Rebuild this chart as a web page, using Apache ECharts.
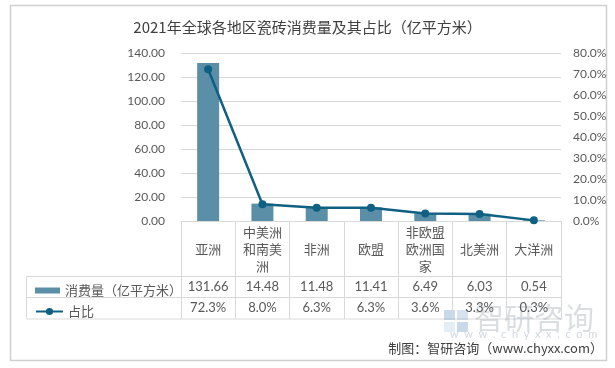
<!DOCTYPE html>
<html>
<head>
<meta charset="utf-8">
<script src="https://cdn.jsdelivr.net/npm/echarts@6/dist/echarts.min.js"></script>
<style>
  html, body { margin: 0; padding: 0; background: #fff; }
  #chart { width: 615px; height: 368px; }
</style>
</head>
<body>
<div id="chart"></div>
<script>
const categories = ['亚洲', '中美洲和南美洲', '非洲', '欧盟', '非欧盟欧洲国家', '北美洲', '大洋洲']
const consumption = [131.66, 14.48, 11.48, 11.41, 6.49, 6.03, 0.54]
const share = [72.3, 8.0, 6.3, 6.3, 3.6, 3.3, 0.3]

const CJK = "'Noto Sans CJK SC', sans-serif"
const NUM = "Lato, 'Noto Sans CJK SC', sans-serif"
const GRID_COLOR = '#d9d9d9'
const TEXT_COLOR = '#595959'

// grid + table geometry
const gridLeft = 181
const gridRight = 561
const axisY = 221
const rowLines = [276.5, 297.5, 319]
const tableLeft = 26.5

// wrap long category names every 3 chars, like the excel table
const wrap = (s) => s.match(/.{1,3}/g).join('\n')

const chart = echarts.init(document.getElementById('chart'))

const lineEl = (x1, y1, x2, y2) => ({
  type: 'line',
  shape: { x1, y1, x2, y2 },
  style: { stroke: GRID_COLOR, lineWidth: 1 },
  silent: true
})

chart.setOption({
  animation: false,
  color: ['#5b8fa8', '#0f6082'],
  title: {
    text: '2021年全球各地区瓷砖消费量及其占比（亿平方米）',
    left: 'center',
    top: 15,
    textStyle: { fontFamily: CJK, fontSize: 15, fontWeight: 'normal', color: '#404040' }
  },
  grid: {
    left: gridLeft, right: 615 - gridRight, top: 53, bottom: 368 - axisY,
    containLabel: false, outerBoundsMode: 'none'
  },
  legend: [
    {
      data: [{ name: '消费量（亿平方米）', icon: 'rect' }],
      left: 30, top: 279,
      itemWidth: 25, itemHeight: 6,
      textStyle: { fontFamily: CJK, fontSize: 13, color: TEXT_COLOR }
    },
    {
      data: ['占比'],
      left: 30, top: 300,
      itemWidth: 27, itemHeight: 9,
      textStyle: { fontFamily: CJK, fontSize: 13, color: TEXT_COLOR }
    }
  ],
  xAxis: [
    {
      type: 'category',
      position: 'bottom',
      data: categories,
      axisLine: { lineStyle: { color: GRID_COLOR } },
      axisTick: { show: true, length: rowLines[2] - axisY, lineStyle: { color: GRID_COLOR } },
      axisLabel: {
        interval: 0, margin: 28, verticalAlign: 'middle',
        lineHeight: 17, fontFamily: CJK, fontSize: 13, color: TEXT_COLOR,
        formatter: (v) => wrap(v)
      }
    },
    {
      type: 'category',
      position: 'bottom',
      data: categories,
      axisLine: { show: false },
      axisTick: { show: false },
      axisLabel: {
        interval: 0, margin: 66, verticalAlign: 'middle',
        fontFamily: NUM, fontSize: 13, color: TEXT_COLOR,
        formatter: (v, i) => consumption[i].toFixed(2)
      }
    },
    {
      type: 'category',
      position: 'bottom',
      data: categories,
      axisLine: { show: false },
      axisTick: { show: false },
      axisLabel: {
        interval: 0, margin: 87, verticalAlign: 'middle',
        fontFamily: NUM, fontSize: 13, color: TEXT_COLOR,
        formatter: (v, i) => share[i].toFixed(1) + '%'
      }
    }
  ],
  yAxis: [
    {
      type: 'value', min: 0, max: 140, interval: 20,
      axisLine: { show: false },
      splitLine: { lineStyle: { color: GRID_COLOR } },
      axisLabel: { margin: 16, fontFamily: NUM, fontSize: 12, color: TEXT_COLOR, formatter: (v) => v.toFixed(2) }
    },
    {
      type: 'value', min: 0, max: 80, interval: 10,
      axisLine: { show: false },
      splitLine: { show: false },
      axisLabel: { margin: 12, fontFamily: NUM, fontSize: 12, color: TEXT_COLOR, formatter: (v) => v.toFixed(1) + '%' }
    }
  ],
  series: [
    {
      name: '消费量（亿平方米）',
      type: 'bar',
      data: consumption,
      barWidth: 22,
      itemStyle: { color: '#5b8fa8' }
    },
    {
      name: '占比',
      type: 'line',
      yAxisIndex: 1,
      data: share,
      symbol: 'circle',
      symbolSize: 8,
      lineStyle: { width: 2.5, color: '#0f6082' },
      itemStyle: { color: '#0f6082' }
    }
  ],
  graphic: [
    // chart frame
    {
      type: 'rect',
      shape: { x: 10.5, y: 5.5, width: 596, height: 355 },
      style: { fill: null, stroke: '#d0d0d0', lineWidth: 1.5 },
      silent: true
    },
    // table rows
    lineEl(tableLeft, rowLines[0], gridRight, rowLines[0]),
    lineEl(tableLeft, rowLines[1], gridRight, rowLines[1]),
    lineEl(tableLeft, rowLines[2], gridRight, rowLines[2]),
    lineEl(tableLeft, rowLines[0], tableLeft, rowLines[2]),
    // watermark
    {
      type: 'text',
      left: 474, top: 303,
      style: { text: '智研咨询', fontFamily: CJK, fontSize: 30, fill: 'rgba(150,160,170,0.35)' },
      silent: true
    },
    {
      type: 'group',
      left: 444, top: 310,
      silent: true,
      children: [
        { type: 'rect', shape: { x: 0, y: 0, width: 11, height: 10 }, style: { fill: 'rgba(120,160,200,0.4)' } },
        { type: 'rect', shape: { x: 13, y: 0, width: 11, height: 10 }, style: { fill: 'rgba(120,160,200,0.3)' } },
        { type: 'rect', shape: { x: 0, y: 12, width: 11, height: 10 }, style: { fill: 'rgba(120,160,200,0.2)' } },
        { type: 'rect', shape: { x: 13, y: 12, width: 11, height: 10 }, style: { fill: 'rgba(120,160,200,0.4)' } }
      ]
    },
    {
      type: 'text',
      left: 450, top: 329,
      style: { text: 'w  w  w  .  c  h  y  x  x  .  c  o  m', fontFamily: NUM, fontSize: 11, fill: 'rgba(150,165,185,0.45)' },
      silent: true
    },
    // source note
    {
      type: 'text',
      right: 12, top: 342,
      style: { text: '制图：智研咨询（www.chyxx.com）', fontFamily: CJK, fontSize: 13, fill: '#404040' },
      silent: true
    }
  ]
})
</script>
</body>
</html>
